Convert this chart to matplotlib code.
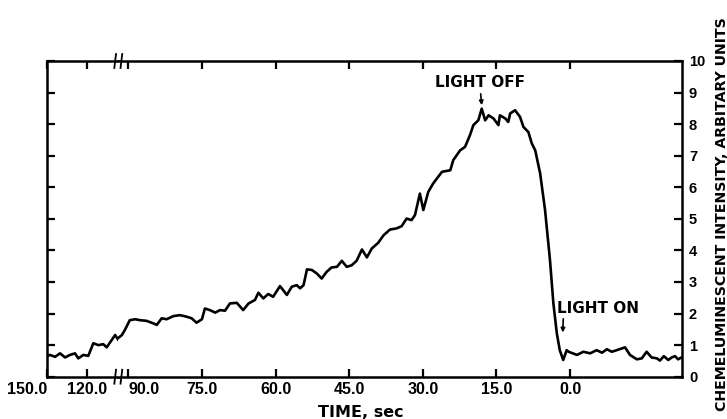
import matplotlib
matplotlib.use("Agg")
import matplotlib.pyplot as plt

# time in seconds (counted down to "light on"), left of the axis break
t_left = [149.8, 148.0, 144.1, 140.3, 136.5, 132.7, 128.9, 126.4, 122.6,
          118.8, 115.0, 111.2, 107.4, 104.8, 101.0, 98.4, 96.2]
i_left = [0.66, 0.69, 0.63, 0.74, 0.61, 0.69, 0.74, 0.58, 0.69,
          0.66, 1.06, 1.00, 1.03, 0.93, 1.16, 1.32, 1.18]

# right of the axis break
t_right = [92.1, 91.3, 90.7, 89.7, 88.6, 87.6, 86.3, 84.9, 84.2, 83.2, 82.2, 80.8, 79.5,
           78.1, 77.1, 76.1, 75.0, 74.4, 73.4, 72.3, 71.3, 70.3, 69.3, 67.9, 66.6,
           65.5, 64.2, 63.5, 62.5, 61.5, 60.5, 59.1, 57.7, 56.7, 55.7, 55.0, 54.3,
           53.6, 52.6, 51.6, 50.6, 49.6, 48.6, 47.5, 46.5, 45.5, 44.5, 43.5, 42.4,
           41.4, 40.4, 39.1, 38.0, 36.7, 35.3, 34.3, 33.3, 32.3, 31.6, 30.6, 29.9,
           28.9, 27.9, 26.1, 24.4, 23.8, 22.4, 21.4, 20.4, 19.7, 18.7, 18.0, 17.3,
           16.6, 15.6, 14.6, 14.3, 13.2, 12.6, 12.2, 11.2, 10.2, 9.5, 8.5, 7.8,
           7.1, 6.1, 5.1, 4.1, 3.4, 2.7, 2.1, 1.4, 0.7, 0.3, -1.4, -2.7,
           -4.1, -5.4, -6.5, -7.5, -8.5, -9.5, -11.2, -12.2, -13.6, -14.6, -15.6, -16.6,
           -17.7, -18.3, -19.1, -20.0, -20.7, -21.4, -22.0, -22.7]
i_right = [1.22, 1.32, 1.48, 1.79, 1.82, 1.79, 1.77, 1.69, 1.64, 1.85, 1.82, 1.92, 1.95,
           1.90, 1.85, 1.71, 1.82, 2.16, 2.11, 2.03, 2.11, 2.09, 2.32, 2.34, 2.11,
           2.32, 2.43, 2.66, 2.48, 2.62, 2.53, 2.87, 2.59, 2.85, 2.90, 2.80, 2.90,
           3.40, 3.38, 3.27, 3.11, 3.32, 3.46, 3.48, 3.67, 3.48, 3.53, 3.67, 4.03,
           3.78, 4.06, 4.24, 4.48, 4.66, 4.70, 4.77, 5.01, 4.96, 5.12, 5.80, 5.28,
           5.85, 6.12, 6.49, 6.54, 6.86, 7.17, 7.28, 7.65, 7.97, 8.12, 8.49, 8.12,
           8.28, 8.18, 7.97, 8.28, 8.18, 8.07, 8.34, 8.44, 8.23, 7.91, 7.75, 7.39,
           7.17, 6.44, 5.28, 3.70, 2.32, 1.37, 0.84, 0.53, 0.84, 0.79, 0.69, 0.79,
           0.74, 0.84, 0.76, 0.87, 0.79, 0.84, 0.93, 0.69, 0.55, 0.58, 0.79, 0.61,
           0.58, 0.51, 0.65, 0.53, 0.61, 0.65, 0.55, 0.61]

xticks_left = [150, 120]
xticks_right = [90, 75, 60, 45, 30, 15, 0]
yticks = list(range(0, 11))

light_off = (18.0, 8.6)
light_on = (1.5, 1.4)

BOLD_NUM = dict(family="Liberation Sans", weight="bold")
BOLD_TXT = dict(family="DejaVu Sans", weight="bold")
LW = 1.8

fig = plt.figure(figsize=(7.27, 4.19), dpi=100)
W, H = 727, 419
bot = 1 - 376.7 / H
hgt = (376.7 - 61) / H
ax1 = fig.add_axes([47.3 / W, bot, (118 - 47.3) / W, hgt])
ax2 = fig.add_axes([118 / W, bot, (682 - 118) / W, hgt])

ax1.plot(t_left, i_left, color="black", lw=1.9, solid_joinstyle="round")
ax2.plot(t_right, i_right, color="black", lw=1.9, solid_joinstyle="round")

ax1.set_xlim(150, 96.2)
ax2.set_xlim(92.1, -22.8)
for ax in (ax1, ax2):
    ax.set_ylim(0, 10)
    for s in ax.spines.values():
        s.set_linewidth(LW)
    ax.tick_params(axis="both", direction="in", length=6, width=1.6,
                   top=True, bottom=True)

ax1.spines["right"].set_visible(False)
ax2.spines["left"].set_visible(False)

ax1.set_xticks(xticks_left)
ax1.set_xticklabels([f"{v:.1f}" for v in xticks_left], fontsize=11.5, **BOLD_NUM)
ax1.get_xticklabels()[0].set_horizontalalignment("right")
ax1.set_yticks(yticks)
ax1.tick_params(axis="y", left=True, right=False, labelleft=False)
ax1.tick_params(axis="x", pad=4)

ax2.set_xticks(xticks_right)
ax2.set_xticklabels([f"{v:.1f}" for v in xticks_right], fontsize=11.5, **BOLD_NUM)
ax2.get_xticklabels()[0].set_horizontalalignment("left")
ax2.set_yticks(yticks)
ax2.set_yticklabels([str(v) for v in yticks], fontsize=10.5, **BOLD_NUM)
ax2.tick_params(axis="y", left=False, right=True, labelleft=False,
                labelright=True, pad=5)
ax2.tick_params(axis="x", pad=4)

# axis break marks on top and bottom spines
for y in (0, 1):
    for ax, xa, dx in ((ax1, 0.96, 0.012), (ax2, 0.006, 0.0015)):
        ax.plot([xa - dx, xa + dx], [y - 0.022, y + 0.022],
                transform=ax.transAxes, color="black", lw=1.3, clip_on=False)

ax2.annotate("LIGHT OFF", xy=light_off, xytext=(18.3, 9.33),
             ha="center", va="center", fontsize=11, **BOLD_TXT,
             arrowprops=dict(arrowstyle="-|>", lw=1.2, color="black",
                             shrinkA=1, shrinkB=0, mutation_scale=6,
                             relpos=(0.5, 0.0)))
ax2.annotate("LIGHT ON", xy=light_on, xytext=(2.7, 2.16),
             ha="left", va="center", fontsize=11, **BOLD_TXT,
             arrowprops=dict(arrowstyle="-|>", lw=1.2, color="black",
                             shrinkA=0, shrinkB=0, mutation_scale=6,
                             relpos=(0.08, 0.0)))

fig.text(361 / W, 1 - 412 / H, "TIME, sec", ha="center", va="center",
         fontsize=11.5, **BOLD_TXT)
fig.text(721.5 / W, 1 - 214 / H, "CHEMELUMINESCENT INTENSITY, ARBITARY UNITS",
         rotation=90, ha="center", va="center", fontsize=10.2, **BOLD_TXT)

fig.savefig("out.png", dpi=100)
